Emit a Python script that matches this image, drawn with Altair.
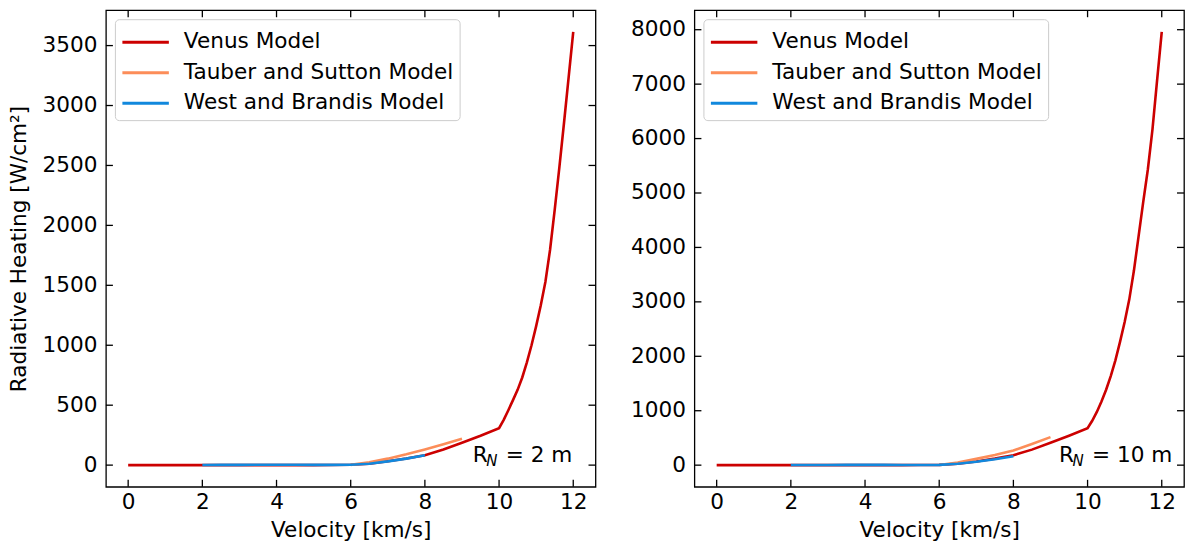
import altair as alt
import pandas as pd

FONT = "DejaVu Sans"
FS = 21.6
W, H = 490, 477

models = ["Venus Model", "Tauber and Sutton Model", "West and Brandis Model"]
colors = ["#cc0000", "#fc8d59", "#1188dd"]

# Venus model (velocity km/s -> radiative heating W/cm2)
venus_v = [0, 0.5, 1, 1.5, 2, 2.5, 3, 3.5, 4, 4.5, 5, 5.5, 6, 6.5, 7, 7.5, 8, 8.5, 9, 9.5, 10,
           10.125, 10.25, 10.375, 10.5, 10.625, 10.75, 10.875, 11, 11.125, 11.25, 11.375,
           11.5, 11.625, 11.75, 11.875, 12]
venus_q2 = [0, 0, 0, 0, 0, 0, 0, 0, 0, 0, 0, 1, 3, 12, 32, 55, 83, 130, 186, 245, 308,
            378, 458, 542, 628, 731, 858, 1000, 1160, 1334, 1530, 1797,
            2130, 2482, 2852, 3232, 3615]
venus_q10 = [0, 0, 0, 0, 0, 0, 0, 0, 0, 0, 0, 2, 6, 25, 68, 120, 183, 285, 410, 540, 678,
             815, 978, 1169, 1385, 1636, 1925, 2265, 2629, 3046, 3575, 4204,
             4831, 5432, 6170, 7073, 7960]

# Tauber and Sutton model
ts_v = [6, 6.5, 7, 7.5, 8, 8.5, 9]
ts_q2 = [2, 24, 54, 90, 131, 175, 219]
ts_q10 = [4, 50, 115, 185, 270, 390, 515]

# West and Brandis model
wb_v = [2, 2.5, 3, 3.5, 4, 4.5, 5, 5.5, 6, 6.5, 7, 7.5, 8]
wb_q2 = [1, 2, 2, 3, 3, 3, 2, 2, 3, 12, 31, 54, 83]
wb_q10 = [2, 3, 4, 5, 5, 5, 4, 4, 6, 26, 64, 110, 165]

x_ticks = [0, 2, 4, 6, 8, 10, 12]
y_ticks_2 = [0, 500, 1000, 1500, 2000, 2500, 3000, 3500]
y_ticks_10 = [0, 1000, 2000, 3000, 4000, 5000, 6000, 7000, 8000]

x_domain = [-0.6, 12.6]
y_domain_2 = [-181, 3795]
y_domain_10 = [-398, 8358]


def panel(vq, tq, wq, y_ticks, y_domain, label, label_pos, show_title):
    xs = alt.Scale(domain=x_domain, nice=False, zero=False)
    ys = alt.Scale(domain=y_domain, nice=False, zero=False)
    color = alt.Color(
        "model:N",
        scale=alt.Scale(domain=models, range=colors),
        legend=alt.Legend(title=None, orient="top-left", offset=9,
                          symbolType="M-1,0L2,0", symbolSize=961, symbolStrokeWidth=3,
                          labelFontSize=FS, labelFont=FONT, labelColor="black", labelLimit=0,
                          rowPadding=2.6, padding=6, labelOffset=29,
                          fillColor="rgba(255,255,255,0.85)", strokeColor="#cccccc",
                          cornerRadius=4),
    )
    x_axis = alt.Axis(values=x_ticks, format="d", ticks=False, domain=False, grid=False,
                      labelFontSize=FS, labelFont=FONT, labelColor="black", labelPadding=5,
                      title="Velocity [km/s]", titleFontSize=FS, titleFont=FONT,
                      titleFontWeight="normal", titleColor="black", titlePadding=6)
    y_axis = alt.Axis(values=y_ticks, format="d", ticks=False, domain=False, grid=False,
                      labelFontSize=FS, labelFont=FONT, labelColor="black", labelPadding=9,
                      title="Radiative Heating [W/cm²]" if show_title else "",
                      titleFontSize=FS, titleFont=FONT, titleFontWeight="normal", titleColor="black",
                      titlePadding=12)
    X = alt.X("v:Q", scale=xs, axis=x_axis)
    Y = alt.Y("q:Q", scale=ys, axis=y_axis)

    layers = []
    for i, (vv, qq) in enumerate([(venus_v, vq), (ts_v, tq), (wb_v, wq)]):
        df = pd.DataFrame({"v": vv, "q": qq, "model": models[i]})
        layers.append(alt.Chart(df).mark_line(strokeWidth=2.6, clip=True).encode(
            x=X, y=Y, color=color))

    ydf = pd.DataFrame({"q": y_ticks})
    xdf = pd.DataFrame({"v": x_ticks})
    tick_style = dict(color="black", strokeWidth=1.3)
    layers.append(alt.Chart(ydf).mark_rule(**tick_style).encode(
        y=Y, x=alt.value(0), x2=alt.value(7)))
    layers.append(alt.Chart(ydf).mark_rule(**tick_style).encode(
        y=Y, x=alt.value(W - 7), x2=alt.value(W)))
    layers.append(alt.Chart(xdf).mark_rule(**tick_style).encode(
        x=X, y=alt.value(0), y2=alt.value(7)))
    layers.append(alt.Chart(xdf).mark_rule(**tick_style).encode(
        x=X, y=alt.value(H - 7), y2=alt.value(H)))

    adf = pd.DataFrame({"v": [label_pos[0]], "q": [label_pos[1]]})
    base = alt.Chart(adf)
    layers.append(base.mark_text(text="R", font=FONT, fontSize=FS, align="left",
                                 baseline="alphabetic", color="black").encode(x=X, y=Y))
    layers.append(base.mark_text(text="N", font=FONT, fontSize=15, fontStyle="italic",
                                 align="left", baseline="alphabetic", dx=13.5, dy=4,
                                 color="black").encode(x=X, y=Y))
    layers.append(base.mark_text(text="= " + label, font=FONT, fontSize=FS, align="left",
                                 baseline="alphabetic", dx=33, color="black").encode(x=X, y=Y))

    return alt.layer(*layers).properties(width=W, height=H)


left = panel(venus_q2, ts_q2, wb_q2, y_ticks_2, y_domain_2, "2 m", (9.29, 25), True)
right = panel(venus_q10, ts_q10, wb_q10, y_ticks_10, y_domain_10, "10 m", (9.23, 55), False)

chart = alt.hconcat(left, right, spacing=32).resolve_legend(color="independent").resolve_scale(
    color="independent", x="independent", y="independent"
).configure(
    padding={"left": 7, "top": 8, "right": 0, "bottom": 0}, background="white"
).configure_view(stroke="black", strokeWidth=1.3)

chart.save("out.html", embed_options={"renderer": "svg", "actions": False})
